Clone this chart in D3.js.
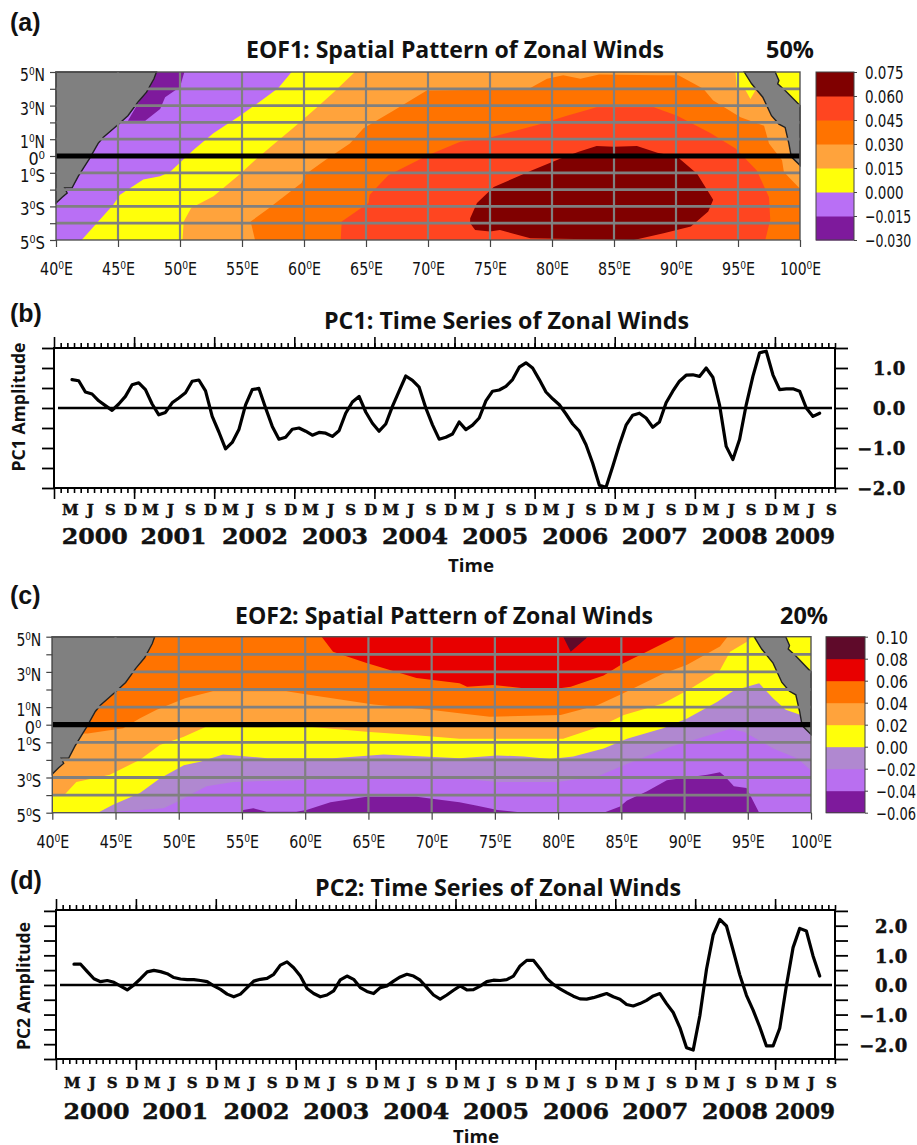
<!DOCTYPE html>
<html><head><meta charset="utf-8">
<script src="https://cdn.jsdelivr.net/npm/d3@7"></script>
<style>
html,body{margin:0;padding:0;background:#fff}
svg{display:block}
text{fill:#111}
.map{font-family:"DejaVu Sans Condensed","DejaVu Sans",sans-serif}
.title{font-family:"Open Sans",sans-serif;font-weight:700}
.grads{font-family:"DejaVu Serif",serif;font-weight:700;stroke:#111;stroke-width:.45px}
.tag{font-family:"Liberation Sans",sans-serif;font-weight:700}
</style></head><body>
<svg id="fig" width="917" height="1145"></svg>
<script>
// ---------- shared axis labels ----------
const lonTicks=[40,45,50,55,60,65,70,75,80,85,90,95,100];
const latTicks=[5,4,3,2,1,0,-1,-2,-3,-4,-5];
const latLabels={"5":"5⁰N","3":"3⁰N","1":"1⁰N","0":"0⁰","-1":"1⁰S","-3":"3⁰S","-5":"5⁰S"};
const monthNames=["M","J","S","D"];
const yearLabels=["2000","2001","2002","2003","2004","2005","2006","2007","2008","2009"];
const yearLabelMonths=[6.1,17.9,30.1,42.1,54.1,66.1,78.1,90,102,112.5];

// ---------- coastlines [lon,lat] ----------
const westCoast=[[40,5],[48.1,5],[47.9,4.6],[47.3,3.8],[46.6,3.2],[45.8,2.4],[44.9,1.8],[43.8,1.1],[43.4,.75],[42.7,-.15],[41.8,-1.2],[41.3,-1.9],[40.7,-1.9],[40.9,-2.2],[40.5,-2.45],[40,-2.8]];
const eastCoast=[[95.5,5],[96.1,4.3],[97,3.5],[97.7,2.4],[98.3,1.9],[98.8,1.7],[99.1,.75],[99.3,-.05],[100,-.55],[100,3],[98.8,3.9],[98.2,4.3],[98.3,4.5],[98,5]];

// ---------- EOF1 filled contours [lon,lat] ----------
const eof1Levels=[-0.03,-0.015,0,0.015,0.03,0.045,0.06,0.075];
const eof1Colors=["#7e1a9c","#b96ff5","#ffff0a","#ffa33c","#ff7300","#ff4520","#800000"];
const eof1LevelA=[[48.1,5],[50.35,5],[50,4.1],[48.8,3.5],[48.4,2.8],[47.2,2.1],[45.8,2.1]];
const eof1LevelC=[[42.07,-5],[43.28,-4],[44.62,-2.9],[45.16,-2.3],[47.04,-1.4],[48.39,-1.2],[49.19,-.95],[51.08,.35],[52.69,1.35],[54.84,2.4],[56.18,3.1],[57.93,4.05],[59,5],[100,5],[100,-5]];
const eof1LevelD=[[50.2,-5],[50.3,-3.9],[50.9,-3.1],[52.7,-2.4],[54.8,-1.1],[56.2,-.15],[57.8,.85],[59.1,1.65],[60.9,2.8],[62.4,3.8],[64.1,5],[94.8,5],[94.9,4.05],[95.5,4.05],[96,3.4],[96.4,3.9],[95.7,5],[100,5],[100,-5]];
const eof1LevelE=[[56.05,-5],[55.7,-3.9],[57,-3.2],[59.8,-1.6],[60.1,-1.1],[61.7,-.25],[63.7,.75],[64.8,1.65],[67.2,2.7],[69.9,3.9],[75,3.95],[78.25,4.05],[79.6,4.6],[80.9,4.8],[82.3,4.6],[83.8,4.85],[88.5,4.8],[90.2,4.8],[92.2,4],[93,3.3],[95.2,2.3],[97.1,1.8],[97.5,.75],[98.55,-.25],[98.7,-.95],[100,-1.95],[100,-5]];
const eof1LevelF=[[62.96,-5],[63.04,-3.9],[65.2,-2.8],[65.3,-2.3],[66.8,-1.15],[70,.05],[72.6,.85],[75,1.1],[78.8,1.85],[81.2,2.4],[83.6,2.9],[88.2,2.9],[90.1,2.4],[92.8,1.35],[94.8,.45],[96.5,-.85],[97.5,-2.45],[97.6,-3.8],[97.2,-5]];
const eof1LevelG=[[73.4,-3.7],[73.95,-2.8],[75.3,-1.85],[78.4,-.85],[80.7,-.15],[82.15,.25],[83.6,.6],[85,.55],[86.85,.6],[88.5,.2],[90.1,-.05],[91.7,-1.05],[93,-2.6],[92.6,-3.3],[91.2,-4.2],[89,-4.6],[86.6,-5],[78.25,-4.9],[75.8,-4.4],[75,-4.5],[73.8,-4.4],[73.4,-4]];
const eof1Corner=[[98,5],[100,5],[100,3],[98,4]];

// ---------- EOF2 filled contours [lon,lat] ----------
const eof2Levels=[-0.06,-0.04,-0.02,0,0.02,0.04,0.06,0.08,0.10];
const eof2Colors=["#7e1a9c","#b96ff0","#b088d0","#ffff0a","#ffa33c","#ff7300","#e80000","#5f0a2a"];
const eof2LowA=[[55,-5],[55.1,-4.85],[55.9,-4.75],[56.95,-4.95],[59.3,-4.95],[60.1,-4.85],[62,-4.4],[64.85,-4.1],[68.8,-4.1],[72.2,-4.4],[73.6,-4.6],[75.2,-4.85],[77.3,-5]];
const eof2LowB=[[83.6,-5],[84.9,-4.65],[85.45,-4.3],[87,-3.8],[88.6,-3.15],[91.8,-2.85],[92.8,-2.7],[93.2,-2.95],[93.9,-3.5],[94.9,-3.6],[95.9,-5]];
const eof2LevelC=[[40,-5],[43.8,-5],[48.8,-4.75],[49.8,-4.4],[52.2,-3.5],[54.3,-3.25],[59.6,-3.15],[64.85,-3],[72.2,-3.05],[75.2,-3.25],[79.9,-3.25],[83.1,-2.95],[85.2,-2.3],[88.9,-1.25],[93.6,-.25],[94.7,-.4],[97,-1.35],[98.9,-1.9],[100,-2.6],[100,5],[40,5]];
const eof2LevelD=[[40,-5],[43.6,-5],[44.8,-4.55],[46.9,-3.9],[48.5,-3.05],[50.4,-2.3],[51.7,-2.1],[53.5,-1.7],[57,-1.9],[62.2,-1.9],[66.2,-1.7],[72.2,-1.9],[75.2,-1.75],[77.3,-1.8],[79.4,-1.95],[81.2,-1.8],[83.6,-1.35],[85.45,-.8],[88.3,-.2],[90.2,.35],[92.6,1.3],[93.9,1.95],[95.9,2.35],[97,1.5],[98,.85],[99.2,.55],[100,.5],[100,5],[40,5]];
const eof2LevelE=[[40,-3.95],[41,-3.95],[41.9,-3.25],[44.55,-2.85],[46.9,-2],[48.5,-1.15],[50.35,-.7],[52.2,-.1],[57,-.15],[60.1,-.1],[64.85,-.4],[68.8,-.6],[72.2,-.8],[74.9,-.8],[80.4,-.8],[83.3,-.1],[85.2,.55],[88.3,1.2],[90.5,2.05],[92.8,3.1],[93.6,4.15],[94.9,4.7],[95.3,5],[40,5]];
const eof2LevelF=[[40,-.5],[42.8,-.5],[45.6,-.2],[46.9,.35],[48.25,.85],[50.5,1.5],[52.7,1.9],[58.5,1.9],[61.2,1.6],[65.4,1.15],[69.9,.85],[72.2,.65],[74.6,.45],[80.2,.55],[83.1,1.1],[85.2,1.8],[88.3,2.9],[90.2,3.4],[92.8,4.45],[93.4,5],[40,5]];
const eof2LevelG=[[61.3,5],[62.2,4.15],[64.85,3.5],[68.8,2.65],[72.2,2.35],[72.8,2.15],[74.9,2.25],[78.85,1.95],[81,2.15],[83.6,2.8],[85.2,3.5],[87,4.15],[89.1,4.9],[89.3,5]];
const eof2LevelH=[[80.4,5],[81,4.15],[82.2,4.9],[82.3,5]];

// ---------- principal component series (monthly, from month 2.7 of the axis) ----------
const pc1Values=[.71,.68,.40,.35,.18,.06,-.06,.10,.29,.58,.63,.46,.10,-.17,-.11,.13,.25,.38,.67,.70,.43,-.21,-.60,-1.02,-.86,-.54,.08,.46,.49,0,-.46,-.78,-.73,-.53,-.50,-.58,-.68,-.61,-.63,-.71,-.57,-.13,.15,.29,-.10,-.38,-.58,-.40,.04,.42,.80,.69,.52,0,-.42,-.78,-.73,-.65,-.35,-.54,-.43,-.25,.18,.42,.45,.54,.71,1.02,1.13,1.0,.71,.40,.23,.08,-.15,-.40,-.58,-.92,-1.38,-1.93,-1.98,-1.46,-.92,-.43,-.18,-.13,-.25,-.48,-.35,.13,.42,.67,.82,.83,.79,1.0,.77,.08,-.96,-1.29,-.79,.08,.79,1.38,1.42,.83,.46,.48,.48,.42,0,-.21,-.13];
const pc2Values=[.70,.70,.45,.21,.11,.15,.09,-.04,-.17,0,.21,.44,.49,.45,.38,.25,.20,.18,.18,.15,.11,-.03,-.15,-.31,-.40,-.31,-.09,.13,.19,.22,.36,.67,.78,.58,.30,-.12,-.29,-.40,-.34,-.20,.17,.30,.19,-.09,-.22,-.29,-.09,-.03,.13,.27,.36,.30,.16,-.09,-.34,-.48,-.34,-.18,-.03,-.17,-.16,-.04,.11,.16,.15,.18,.30,.64,.83,.83,.55,.22,.02,-.13,-.26,-.38,-.47,-.48,-.43,-.36,-.29,-.40,-.48,-.66,-.71,-.63,-.52,-.37,-.29,-.63,-.93,-1.44,-2.12,-2.2,-1.04,.53,1.69,2.21,1.99,1.17,.34,-.35,-.85,-1.42,-2.06,-2.06,-1.46,-.03,1.26,1.91,1.82,.98,.30];
const firstMonth=2.7;
const pc1Ticks=[-2,-1.5,-1,-.5,0,.5,1,1.5];
const pc2Ticks=[-2.5,-2,-1.5,-1,-.5,0,.5,1,1.5,2,2.5];

const svg=d3.select("#fig");

function tx(x,y,s,cls,size,opt={}){
  const t=svg.append("text").attr("x",x).attr("y",y).attr("class",cls).attr("font-size",size).text(s);
  if(opt.anchor)t.attr("text-anchor",opt.anchor);
  if(opt.len)t.attr("textLength",opt.len).attr("lengthAdjust","spacingAndGlyphs");
  if(opt.rot)t.attr("transform",`rotate(${opt.rot} ${x} ${y})`);
  return t;
}
// squeeze tick text to the reference's narrow lettering
function squeeze(sel,perChar,extra){
  sel.each(function(){
    const s=this.textContent; if(!s)return;
    d3.select(this).attr("textLength",s.length*perChar+extra).attr("lengthAdjust","spacingAndGlyphs");
  });
}

function mapPanel(o){
  const x=d3.scaleLinear().domain([40,100]).range([o.x0,o.x1]);
  const y=d3.scaleLinear().domain([-5,5]).range([o.y1,o.y0]);
  const line=d3.line().x(d=>x(d[0])).y(d=>y(d[1])).curve(d3.curveLinear);
  const g=svg.append("g");
  g.append("rect").attr("x",x(40)).attr("y",y(5)).attr("width",x(100)-x(40)).attr("height",y(-5)-y(5)).attr("fill",o.base);
  o.layers.forEach(([poly,c])=>g.append("path").attr("d",line(poly)+"Z").attr("fill",c));
  [westCoast,eastCoast].forEach(p=>g.append("path").attr("d",line(p)+"Z").attr("fill","#808080").attr("stroke","#222").attr("stroke-width",1.4));
  g.selectAll(".h").data(latTicks.filter(d=>d!==0&&Math.abs(d)!==5)).join("line")
    .attr("x1",x(40)).attr("x2",x(100)).attr("y1",d=>y(d)).attr("y2",d=>y(d)).attr("stroke","#808080").attr("stroke-width",2.8);
  g.selectAll(".v").data(lonTicks.slice(1,-1)).join("line")
    .attr("y1",y(5)).attr("y2",y(-5)).attr("x1",d=>x(d)).attr("x2",d=>x(d)).attr("stroke","#808080").attr("stroke-width",2.2);
  g.append("line").attr("x1",x(40)).attr("x2",x(100)).attr("y1",y(0)).attr("y2",y(0)).attr("stroke","#000").attr("stroke-width",5.2);
  g.append("rect").attr("x",x(40)).attr("y",y(5)).attr("width",x(100)-x(40)).attr("height",y(-5)-y(5)).attr("fill","none").attr("stroke","#555").attr("stroke-width",1.4);

  const ax=svg.append("g").attr("transform",`translate(0,${y(-5)})`)
    .call(d3.axisBottom(x).tickValues(lonTicks).tickSize(7).tickFormat(d=>d+"⁰E"));
  const ay=svg.append("g").attr("transform",`translate(${x(40)},0)`)
    .call(d3.axisLeft(y).tickValues(latTicks).tickSize(6).tickFormat(d=>latLabels[d]||""));
  [ax,ay].forEach(a=>{a.attr("font-family",null).attr("font-size",null).attr("class","map");a.select(".domain").remove();
    a.selectAll("line").attr("stroke","#444").attr("stroke-width",1.2);
    a.selectAll("text").attr("font-size",18.5).attr("fill","#222");});
  ax.selectAll("text").attr("y",35).attr("dy",null);
  ay.selectAll("text").attr("x",-11).attr("dy",8.5);
  squeeze(ax.selectAll("text"),8.2,0);
  squeeze(ay.selectAll("text"),8.3,0);

  // colour bar
  const cy=d3.scaleLinear().domain([o.levels[0],o.levels[o.levels.length-1]]).range([o.y1,o.y0]);
  svg.append("g").selectAll("rect").data(o.colors).join("rect")
    .attr("x",o.cb0).attr("width",o.cb1-o.cb0)
    .attr("y",(d,i)=>cy(o.levels[i+1])).attr("height",(d,i)=>cy(o.levels[i])-cy(o.levels[i+1])+.5)
    .attr("fill",d=>d);
  svg.append("rect").attr("x",o.cb0).attr("y",o.y0).attr("width",o.cb1-o.cb0).attr("height",o.y1-o.y0).attr("fill","none").attr("stroke","#444").attr("stroke-width",1);
  const ac=svg.append("g").attr("transform",`translate(${o.cb1},0)`).attr("class","map")
    .call(d3.axisRight(cy).tickValues(o.levels).tickSize(3).tickPadding(8)
      .tickFormat(d=>{const s=d3.format(o.fmt)(Math.abs(d));return (d<-1e-9?"−":"")+s;}));
  ac.attr("font-family",null).attr("font-size",null);
  ac.select(".domain").remove();
  ac.selectAll("line").attr("stroke","#444");
  ac.selectAll("text").attr("font-size",18.5).attr("fill","#222").attr("dy",6.5);
  squeeze(ac.selectAll("text"),o.cbChar,0);
}

function pcPanel(o){
  const x=d3.scaleLinear().domain([0,117]).range([o.x0,o.x1]);
  const y=d3.scaleLinear().domain(o.dom).range([o.y1,o.y0]);
  const months=d3.range(1,118), years=d3.range(0,10).map(d=>d*12);
  const bottomS=d3.axisBottom(x).tickValues(months).tickSize(5).tickFormat("");
  const bottomL=d3.axisBottom(x).tickValues(years).tickSize(11).tickFormat("");
  const topS=d3.axisTop(x).tickValues(months).tickSize(5).tickFormat("");
  const topL=d3.axisTop(x).tickValues(years).tickSize(11).tickFormat("");
  [[bottomS,o.y1],[bottomL,o.y1],[topS,o.y0],[topL,o.y0]].forEach(([a,yy])=>{
    const g=svg.append("g").attr("transform",`translate(0,${yy})`).call(a);
    g.select(".domain").remove();
    g.selectAll("line").attr("stroke","#000").attr("stroke-width",1.6);
  });
  const left=svg.append("g").attr("transform",`translate(${o.x0},0)`).call(d3.axisLeft(y).tickValues(o.ticks).tickSize(12).tickFormat(""));
  left.select(".domain").remove();
  left.selectAll("line").attr("stroke","#000").attr("stroke-width",1.8);
  const right=svg.append("g").attr("transform",`translate(${o.x1},0)`).attr("class","grads")
    .call(d3.axisRight(y).tickValues(o.ticks).tickSize(13).tickFormat(d=>Number.isInteger(d)?(d<0?"−":"")+d3.format(".1f")(Math.abs(d)):""));
  right.attr("font-family",null).attr("font-size",null);
  right.select(".domain").remove();
  right.selectAll("line").attr("stroke","#000").attr("stroke-width",1.8);
  right.selectAll("text").attr("x",o.labelRight-o.x1).attr("text-anchor","end").attr("font-size",18).attr("fill","#111").attr("dy","0.38em").attr("letter-spacing","0.6");
  svg.append("rect").attr("x",o.x0).attr("y",o.y0).attr("width",o.x1-o.x0).attr("height",o.y1-o.y0).attr("fill","none").attr("stroke","#000").attr("stroke-width",2);
  svg.append("line").attr("x1",o.x0+4).attr("x2",o.x1-3).attr("y1",y(0)).attr("y2",y(0)).attr("stroke","#000").attr("stroke-width",2.6);
  const line=d3.line().x((d,i)=>x(firstMonth+i)).y(d=>y(d));
  svg.append("path").attr("d",line(o.values)).attr("fill","none").attr("stroke","#000").attr("stroke-width",3.2).attr("stroke-linejoin","round").attr("stroke-linecap","round");
  years.forEach((m,k)=>monthNames.forEach((n,j)=>{
    const mm=m+2.45+3*j;
    if(mm<117) tx(x(mm),o.monthY,n,"grads",15,{anchor:"middle"});
  }));
  yearLabels.forEach((s,i)=>tx(x(yearLabelMonths[i]),o.yearY,s,"grads",22,{anchor:"middle",len:i===9?60:66}));
}

// ------- (a) -------
tx(10,31,"(a)","tag",25);
tx(246,58,"EOF1: Spatial Pattern of Zonal Winds","title",23,{len:418});
tx(766,58,"50%","title",23,{len:48});
mapPanel({x0:56,x1:800,y0:72,y1:240,base:eof1Colors[1],
  layers:[[eof1LevelA,eof1Colors[0]],[eof1LevelC,eof1Colors[2]],[eof1LevelD,eof1Colors[3]],[eof1LevelE,eof1Colors[4]],[eof1LevelF,eof1Colors[5]],[eof1LevelG,eof1Colors[6]],[eof1Corner,eof1Colors[2]]],
  levels:eof1Levels,colors:eof1Colors,fmt:".3f",cb0:816,cb1:854,cbChar:7.7});

// ------- (b) -------
tx(10,322,"(b)","tag",25);
tx(324,329,"PC1: Time Series of Zonal Winds","title",23,{len:365});
pcPanel({x0:54,x1:835,y0:348,y1:488,dom:[-2,1.5],ticks:pc1Ticks,values:pc1Values,labelRight:906,monthY:515,yearY:544});
tx(25,407,"PC1 Amplitude","title",18,{anchor:"middle",rot:-90,len:129});
tx(471,572,"Time","title",18,{anchor:"middle",len:46});

// ------- (c) -------
tx(10,604,"(c)","tag",25);
tx(235,624,"EOF2: Spatial Pattern of Zonal Winds","title",23,{len:418});
tx(780,624,"20%","title",23,{len:48});
mapPanel({x0:52.3,x1:811,y0:636.7,y1:812.7,base:eof2Colors[1],
  layers:[[eof2LowA,eof2Colors[0]],[eof2LowB,eof2Colors[0]],[eof2LevelC,eof2Colors[2]],[eof2LevelD,eof2Colors[3]],[eof2LevelE,eof2Colors[4]],[eof2LevelF,eof2Colors[5]],[eof2LevelG,eof2Colors[6]],[eof2LevelH,eof2Colors[7]]],
  levels:eof2Levels,colors:eof2Colors,fmt:".2f",cb0:826,cb1:865,cbChar:8});

// ------- (d) -------
tx(10,889,"(d)","tag",25);
tx(315,896,"PC2: Time Series of Zonal Winds","title",23,{len:366});
pcPanel({x0:56,x1:835,y0:910,y1:1059,dom:[-2.5,2.53],ticks:pc2Ticks,values:pc2Values,labelRight:908,monthY:1088,yearY:1119});
tx(30,986,"PC2 Amplitude","title",18,{anchor:"middle",rot:-90,len:128});
tx(476,1143,"Time","title",18,{anchor:"middle",len:46});
</script>
</body></html>
